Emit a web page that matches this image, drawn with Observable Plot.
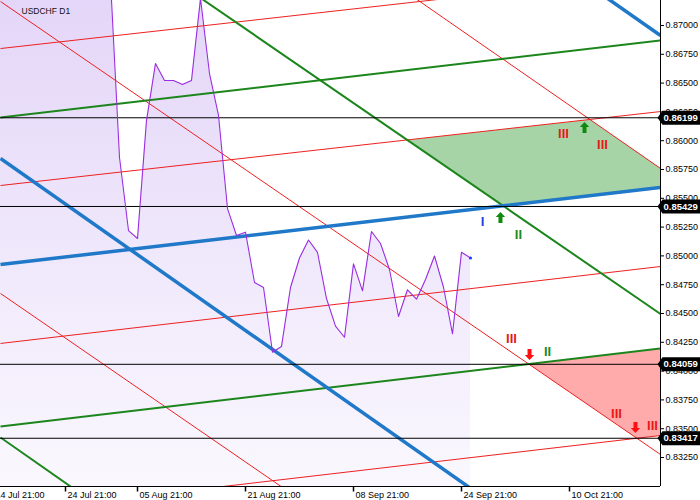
<!DOCTYPE html>
<html><head><meta charset="utf-8">
<script src="https://cdn.jsdelivr.net/npm/d3@7"></script>
<script src="https://cdn.jsdelivr.net/npm/@observablehq/plot@0.6"></script>
<style>
body{margin:0;background:#fff;}
#chart{width:700px;height:500px;overflow:hidden;}
</style>
</head><body><div id="chart"></div>
<script>
// ---------- data ----------
const symbolName = "USDCHF D1";
const priceStartBar = -1;                 // bar index of the first close
const closes = [0.8790, 0.8805, 0.8798, 0.8812, 0.8825, 0.8809, 0.8794, 0.8801, 0.8786, 0.8772, 0.8779, 0.8763, 0.8768, 0.87391,
  0.85854, 0.85220, 0.85151, 0.86175, 0.86670, 0.86523, 0.86523, 0.86488, 0.86523, 0.87234,
  0.86583, 0.86219, 0.85411, 0.85177, 0.85206, 0.84769, 0.84726, 0.84164, 0.84214, 0.84726,
  0.84982, 0.85138, 0.85030, 0.84630, 0.84391, 0.84294, 0.84931, 0.84697, 0.85212, 0.85108,
  0.84882, 0.84474, 0.84706, 0.84624, 0.84795, 0.84999, 0.84728, 0.84324, 0.85032, 0.84982];

const viewBars = [-0.2222, 73.1111];      // visible time window (bar index)
const priceRange = [0.829983, 0.872170];  // visible price window

// grid lines: [price at left edge, price at right edge]
const redLines = [
  [0.86800, 0.87443], [0.85611, 0.86253], [0.84240, 0.84908], [0.82773, 0.83441],
  [0.89734, 0.85759], [0.872083, 0.83276], [0.84674, 0.80733]
];
const greenLines = [
  [0.86201, 0.86870], [0.83519, 0.84196], [0.88432, 0.84496], [0.83424, 0.79413]
];
const blueLines = [
  [0.84925, 0.85594], [0.90924, 0.86913], [0.85845, 0.81826]
];

const levels = [0.86199, 0.85429, 0.84059, 0.83417];

const yTicks = [0.87000, 0.86750, 0.86500, 0.86250, 0.86000, 0.85750, 0.85500, 0.85250,
  0.85000, 0.84750, 0.84500, 0.84250, 0.84000, 0.83750, 0.83500, 0.83250];
const xTickBars = [-1, 7, 15, 27, 39, 51, 63];
const xTickLabels = ["14 Jul 21:00", "24 Jul 21:00", "05 Aug 21:00", "21 Aug 21:00",
  "08 Sep 21:00", "24 Sep 21:00", "10 Oct 21:00"];

const redNumerals = [
  {bar: 62.33, price: 0.86062, text: "III"}, {bar: 66.67, price: 0.85967, text: "III"},
  {bar: 56.56, price: 0.84283, text: "III"}, {bar: 68.22, price: 0.83632, text: "III"},
  {bar: 72.22, price: 0.83528, text: "III"}
];
const greenNumerals = [
  {bar: 57.33, price: 0.85186, text: "II"}, {bar: 60.56, price: 0.84170, text: "II"}
];
const blueNumerals = [{bar: 53.33, price: 0.85299, text: "I"}];

const upSignals = [{bar: 64.67, price: 0.86115}, {bar: 55.33, price: 0.85333}];
const downSignals = [{bar: 58.56, price: 0.84144}, {bar: 70.33, price: 0.83510}];

// ---------- derived ----------
const [bL, bR] = viewBars;
const priceData = closes.map((p, i) => ({bar: priceStartBar + i, price: p}));
const seg = l => ({x1: bL, y1: l[0], x2: bR, y2: l[1]});
const slope = l => (l[1] - l[0]) / (bR - bL);
function cross(a, c) {
  const b = bL + (c[0] - a[0]) / (slope(a) - slope(c));
  return {bar: b, price: a[0] + slope(a) * (b - bL)};
}
const greenZone = [
  cross(redLines[1], greenLines[2]), cross(redLines[1], redLines[4]),
  cross(blueLines[0], redLines[4]), cross(blueLines[0], greenLines[2])
];
const redZone = [
  cross(greenLines[1], redLines[5]), cross(greenLines[1], greenLines[2]),
  cross(redLines[3], greenLines[2]), cross(redLines[3], redLines[5])
];
const levelPts = levels.map(v => ({bar: bR, price: v}));
const xTicks = xTickBars.map((b, i) => ({bar: b, price: priceRange[0], label: xTickLabels[i]}));

// custom symbols
const upArrow = {draw(c) { c.moveTo(0,-5.5); c.lineTo(4.7,-0.5); c.lineTo(2,-0.5); c.lineTo(2,5.5); c.lineTo(-2,5.5); c.lineTo(-2,-0.5); c.lineTo(-4.7,-0.5); c.closePath(); }};
const downArrow = {draw(c) { c.moveTo(0,5.5); c.lineTo(4.7,0.5); c.lineTo(2,0.5); c.lineTo(2,-5.5); c.lineTo(-2,-5.5); c.lineTo(-2,0.5); c.lineTo(-4.7,0.5); c.closePath(); }};
const tagShape = {draw(c) { c.moveTo(-3,0); c.lineTo(2,-7); c.lineTo(41,-7); c.lineTo(41,7); c.lineTo(2,7); c.closePath(); }};
const tickShape = {draw(c) { c.moveTo(0,0); c.lineTo(0,5); }};

const font = "'Liberation Sans', Arial, sans-serif";
const numeralStyle = {x: "bar", y: "price", text: "text", fontWeight: "bold", fontSize: 13, fontFamily: font};

const plot = Plot.plot({
  width: 700, height: 500,
  marginTop: 0, marginLeft: 0, marginRight: 40, marginBottom: 14,
  x: {domain: viewBars, axis: null},
  y: {domain: priceRange, axis: null},
  style: {fontFamily: font, fontSize: "9px", background: "white"},
  marks: [
    Plot.areaY(priceData, {x: "bar", y1: priceRange[0], y2: "price", fill: "url(#lavGrad)", clip: true}),
    Plot.line(greenZone, {x: "bar", y: "price", fill: "#a6d4a6", stroke: "none", clip: true}),
    Plot.line(redZone, {x: "bar", y: "price", fill: "#ffabab", stroke: "none", clip: true}),
    Plot.link(redLines.map(seg), {x1: "x1", y1: "y1", x2: "x2", y2: "y2", stroke: "#ee2020", strokeWidth: 1, clip: true}),
    Plot.link(greenLines.map(seg), {x1: "x1", y1: "y1", x2: "x2", y2: "y2", stroke: "#1c861c", strokeWidth: 2, clip: true}),
    Plot.link(blueLines.map(seg), {x1: "x1", y1: "y1", x2: "x2", y2: "y2", stroke: "#1f78c8", strokeWidth: 3.5, clip: true}),
    Plot.ruleY(levels, {stroke: "black", strokeWidth: 1}),
    Plot.line(priceData, {x: "bar", y: "price", stroke: "#9a2de0", strokeWidth: 1.1, clip: true}),
    Plot.dot(priceData.slice(-1), {x: "bar", y: "price", r: 1.6, fill: "#1f3fff"}),
    Plot.ruleY([priceRange[0]], {stroke: "black"}),
    Plot.ruleX([bR], {stroke: "black"}),
    Plot.text([symbolName], {frameAnchor: "top-left", dx: 21, dy: 7, textAnchor: "start", fontSize: 8.5, fill: "#111"}),
    Plot.text(redNumerals, {...numeralStyle, fill: "#e81818"}),
    Plot.text(greenNumerals, {...numeralStyle, fill: "#1a8a1a"}),
    Plot.text(blueNumerals, {...numeralStyle, fill: "#1e3ce0"}),
    Plot.dot(upSignals, {x: "bar", y: "price", symbol: upArrow, fill: "#0f8a0f", stroke: "none"}),
    Plot.dot(downSignals, {x: "bar", y: "price", symbol: downArrow, fill: "#ff1010", stroke: "none"}),
    Plot.axisY({anchor: "right", ticks: yTicks, tickFormat: d => d.toFixed(5), tickSize: 3, tickPadding: 2, fontSize: 9, label: null, fontFamily: font}),
    Plot.dot(levelPts, {x: "bar", y: "price", symbol: tagShape, fill: "black", stroke: "none"}),
    Plot.text(levelPts, {x: "bar", y: "price", text: d => d.price.toFixed(5), fill: "white", fontWeight: "bold", fontSize: 9.5, textAnchor: "start", dx: 3, fontFamily: font}),
    Plot.dot(xTicks, {x: "bar", y: "price", symbol: tickShape, stroke: "black", fill: "none"}),
    Plot.text(xTicks, {x: "bar", y: "price", text: "label", textAnchor: "start", dx: 2, dy: 8.5, fontSize: 9, fontFamily: font})
  ]
});

d3.select(plot).insert("defs", ":first-child").html(
  '<linearGradient id="lavGrad" gradientUnits="userSpaceOnUse" x1="0" y1="0" x2="0" y2="486">' +
  '<stop offset="0" stop-color="#e4d6f8"/><stop offset="1" stop-color="#faf8fe"/></linearGradient>');

document.getElementById("chart").appendChild(plot);
</script>
</body></html>
